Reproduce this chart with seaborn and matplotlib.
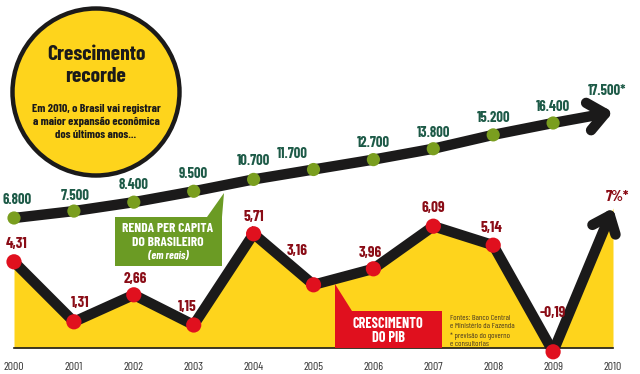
import numpy as np
import matplotlib
matplotlib.use('Agg')
import matplotlib.pyplot as plt
import seaborn as sns
from matplotlib.patches import Circle, Polygon

years = [2000, 2001, 2002, 2003, 2004, 2005, 2006, 2007, 2008, 2009, 2010]
pib = [4.31, 1.31, 2.66, 1.15, 5.71, 3.16, 3.96, 6.09, 5.14, -0.19, 7.0]
pib_labels = ['4,31', '1,31', '2,66', '1,15', '5,71', '3,16', '3,96', '6,09', '5,14', '-0,19', '7%*']
renda = [6800, 7500, 8400, 9500, 10700, 11700, 12700, 13800, 15200, 16400, 17500]
renda_labels = ['6.800', '7.500', '8.400', '9.500', '10.700', '11.700', '12.700',
                '13.800', '15.200', '16.400', '17.500*']

# label nudges in pixels (dx, dy) -- most sit right above the point
pib_off = [(3, 18), (6, 19), (2, 16), (-6, 18), (0, 17), (-16, 34), (-3, 16),
           (0, 18), (-2, 17), (0, 39), (4, 11)]
renda_off = [(3, 18), (1, 15), (0, 17), (0, 17), (0, 18), (-21, 16), (0, 17),
             (0, 16), (0, 17), (0, 16), (-6, 21)]

YELLOW = '#fed41c'
RED = '#e0101e'
DARKRED = '#8a0c16'
GREEN = '#7a9e1f'
BOXGREEN = '#6b9b24'
TEAL = '#1d5a47'
INK = '#1b1a1a'

sns.set_theme(style='white')
plt.rcParams['font.family'] = ['Barlow Condensed', 'Roboto Condensed', 'DejaVu Sans']

W, H = 640, 374
fig = plt.figure(figsize=(W / 100, H / 100), dpi=100)
fig.patch.set_facecolor('white')


def px(x, y):
    # pixel (top-left origin) -> inches for fig.dpi_scale_trans
    return x / 100, (H - y) / 100


# PIB axis: baseline at y=348px, 20px per point
ax = fig.add_axes([14 / W, (H - 348) / H, (613 - 14) / W, 348 / H])
ax.set_xlim(2000, 2010)
ax.set_ylim(0, 348 / 20)
ax2 = ax.twinx()
ax2.set_ylim(6800 - 130 / 0.009896, 6800 + 218 / 0.009896)

# PIB: yellow area, black line, red points
ax.fill_between(years, np.clip(pib, 0, None), 0, color=YELLOW, lw=0, zorder=1)
sns.lineplot(x=years[:10], y=pib[:10], ax=ax, color=INK, lw=7.5,
             solid_joinstyle='miter', clip_on=False, zorder=2)
ax.annotate('', xy=(years[10], pib[10]), xytext=(years[9], pib[9]),
            arrowprops=dict(arrowstyle='->,head_length=1.1,head_width=0.9', lw=7.5,
                            color=INK, shrinkA=0, shrinkB=0, mutation_scale=10),
            annotation_clip=False, zorder=2)
sns.scatterplot(x=years[:10], y=pib[:10], ax=ax, s=120, color=RED, edgecolor='none',
                clip_on=False, zorder=4)
for x, y, lab, (dx, dy) in zip(years, pib, pib_labels, pib_off):
    ax.annotate(lab, (x, y), xytext=(dx * 0.72, dy * 0.72), textcoords='offset points',
                ha='center', va='center', fontsize=11, fontweight='bold',
                color=DARKRED, annotation_clip=False, zorder=5)

# renda per capita: black line with green points
sns.lineplot(x=years[:10], y=renda[:10], ax=ax2, color=INK, lw=7.5,
             solid_joinstyle='miter', clip_on=False, zorder=2)
ax2.annotate('', xy=(years[10], renda[10]), xytext=(years[9], renda[9]),
             arrowprops=dict(arrowstyle='->,head_length=1.2,head_width=1.0', lw=7.5,
                             color=INK, shrinkA=0, shrinkB=0, mutation_scale=10),
             annotation_clip=False, zorder=2)
sns.scatterplot(x=years[:10], y=renda[:10], ax=ax2, s=90, color=GREEN, edgecolor='none',
                clip_on=False, zorder=4)
for x, y, lab, (dx, dy) in zip(years, renda, renda_labels, renda_off):
    ax2.annotate(lab, (x, y), xytext=(dx * 0.72, dy * 0.72), textcoords='offset points',
                 ha='center', va='center', fontsize=10.5, fontweight='bold',
                 color=TEAL, annotation_clip=False, zorder=5)

# axes cosmetics
ax.set_xticks(years)
ax.set_xticklabels([str(y) for y in years])
ax.tick_params(axis='x', length=0, pad=10, labelsize=8.5, labelcolor='#333333')
ax.set_yticks([])
ax2.set_yticks([])
ax.set_xlabel('')
ax.set_ylabel('')
ax2.set_ylabel('')
for s in ['top', 'left', 'right']:
    ax.spines[s].set_visible(False)
for s in ax2.spines.values():
    s.set_visible(False)
ax.spines['bottom'].set_color(INK)
ax.spines['bottom'].set_linewidth(1.2)

tr = fig.dpi_scale_trans

# headline circle
fig.patches.append(Circle(px(96, 92), 0.835, transform=tr, facecolor=YELLOW,
                          edgecolor=INK, lw=3.2, zorder=6))
fig.text(*px(96, 55), 'Crescimento', transform=tr, ha='center', va='center',
         fontsize=15.5, fontweight='bold', color=INK, zorder=7)
fig.text(*px(96, 77), 'recorde', transform=tr, ha='center', va='center',
         fontsize=15.5, fontweight='bold', color=INK, zorder=7)
for yy, line in zip([109, 122, 135], ['Em 2010, o Brasil vai registrar',
                                      'a maior expansão econômica',
                                      'dos últimos anos...']):
    fig.text(*px(96, yy), line, transform=tr, ha='center', va='center',
             fontsize=8.6, fontweight='bold', color=INK, zorder=7)

# callout boxes
fig.patches.append(Polygon([px(115, 217), px(207, 217), px(224, 193), px(222, 217),
                            px(222, 266), px(115, 266)], closed=True, transform=tr,
                           facecolor=BOXGREEN, edgecolor='none', zorder=6))
fig.text(*px(168, 229), 'RENDA PER CAPITA', transform=tr, ha='center', va='center',
         fontsize=9.7, fontweight='bold', color='white', zorder=7)
fig.text(*px(168, 243), 'DO BRASILEIRO', transform=tr, ha='center', va='center',
         fontsize=9.7, fontweight='bold', color='white', zorder=7)
fig.text(*px(168, 256), '(em reais)', transform=tr, ha='center', va='center',
         fontsize=8, fontweight='bold', fontstyle='italic', color='white', zorder=7)

fig.patches.append(Polygon([px(335, 284), px(352, 311), px(442, 311), px(442, 348),
                            px(335, 348)], closed=True, transform=tr,
                           facecolor=RED, edgecolor='none', zorder=6))
fig.text(*px(388, 324), 'CRESCIMENTO', transform=tr, ha='center', va='center',
         fontsize=10.2, fontweight='bold', color='white', zorder=7)
fig.text(*px(388, 338), 'DO PIB', transform=tr, ha='center', va='center',
         fontsize=10.2, fontweight='bold', color='white', zorder=7)

# sources
for yy, line in zip([318, 326, 336, 344], ['Fontes: Banco Central',
                                           'e Ministério da Fazenda',
                                           '* previsão do governo',
                                           'e consultorias']):
    fig.text(*px(450, yy), line, transform=tr, ha='left', va='center',
             fontsize=5.8, color='#4a3a22', zorder=7)

fig.savefig('out.png', dpi=100, facecolor='white')
